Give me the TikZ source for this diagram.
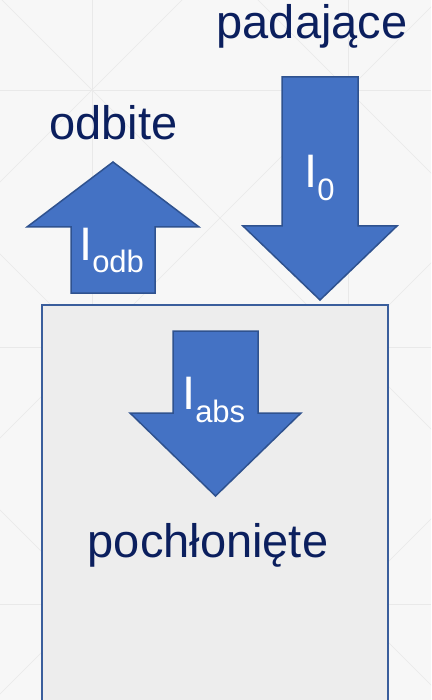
\documentclass[tikz,border=0pt]{standalone}
\usepackage{fontspec}
\setmainfont{Liberation Sans}

\definecolor{navytext}{HTML}{0B1F5E}
\definecolor{arrowfill}{HTML}{4472C4}
\definecolor{arrowline}{HTML}{2F528F}
\definecolor{boxfill}{HTML}{EDEDED}
\definecolor{boxline}{HTML}{3A5E9C}
\definecolor{pagebg}{HTML}{F7F7F7}
\definecolor{gridline}{HTML}{E9E9E9}

\newcommand{\intens}[1]{{\fontsize{47}{50}\selectfont I}\raisebox{-13pt}{\fontsize{31}{34}\selectfont #1}}

\begin{document}
\begin{tikzpicture}[x=1pt,y=-1pt,
    word/.style={inner sep=0pt,anchor=base,text=navytext,font=\fontsize{47}{50}\selectfont},
    sym/.style={inner sep=0pt,anchor=base west,text=white},
    blockarrow/.style={fill=arrowfill,draw=arrowline,line width=1.5pt,line join=miter}]

%% - Background
%% - --------------------------------------

\useasboundingbox (0,0) rectangle (431,700);
\clip (0,0) rectangle (431,700);
\fill[pagebg] (0,0) rectangle (431,700);

%% - helping lines of the slide background

\foreach \gx in {92,348} \draw[gridline, thin] (\gx,0) -- (\gx,700);
\foreach \gy in {90,347,604} \draw[gridline, thin] (0,\gy) -- (431,\gy);
\foreach \k in {-3,...,4} {
  \draw[gridline, thin] (-200,{182+256*\k+200}) -- (700,{182+256*\k-700});
  \draw[gridline, thin] (-200,{-2+256*\k-200}) -- (700,{-2+256*\k+700});
}

%% - Draw body
%% - --------------------------------------

\filldraw[fill=boxfill, draw=boxline, line width=2.5pt] (42,305) rectangle (388,720);

%% - Draw arrows
%% - --------------------------------------

%% - padajace
\filldraw[blockarrow] (282,77) -- (358,77) -- (358,226) -- (397,226) -- (320,300) -- (243,226) -- (282,226) -- cycle;
%% - odbite
\filldraw[blockarrow] (71,293) -- (71,227) -- (27,227) -- (113,162) -- (199,227) -- (155,227) -- (155,293) -- cycle;
%% - pochloniete
\filldraw[blockarrow] (173,331) -- (258,331) -- (258,413) -- (301,413) -- (215.5,496) -- (130,413) -- (173,413) -- cycle;

%% - Draw Texts
%% - --------------------------------------

\node[word] (incident) at (312,39) {padające};
\node[word] (reflected) at (113.5,140) {odbite};
\node[word] (absorbed) at (208,557) {pochłonięte};

\node[sym] (izero) at (304,188) {\intens{0}};
\node[sym] (iodb) at (79,260) {\intens{odb}};
\node[sym] (iabs) at (182,409) {\intens{abs}};

\end{tikzpicture}
\end{document}
